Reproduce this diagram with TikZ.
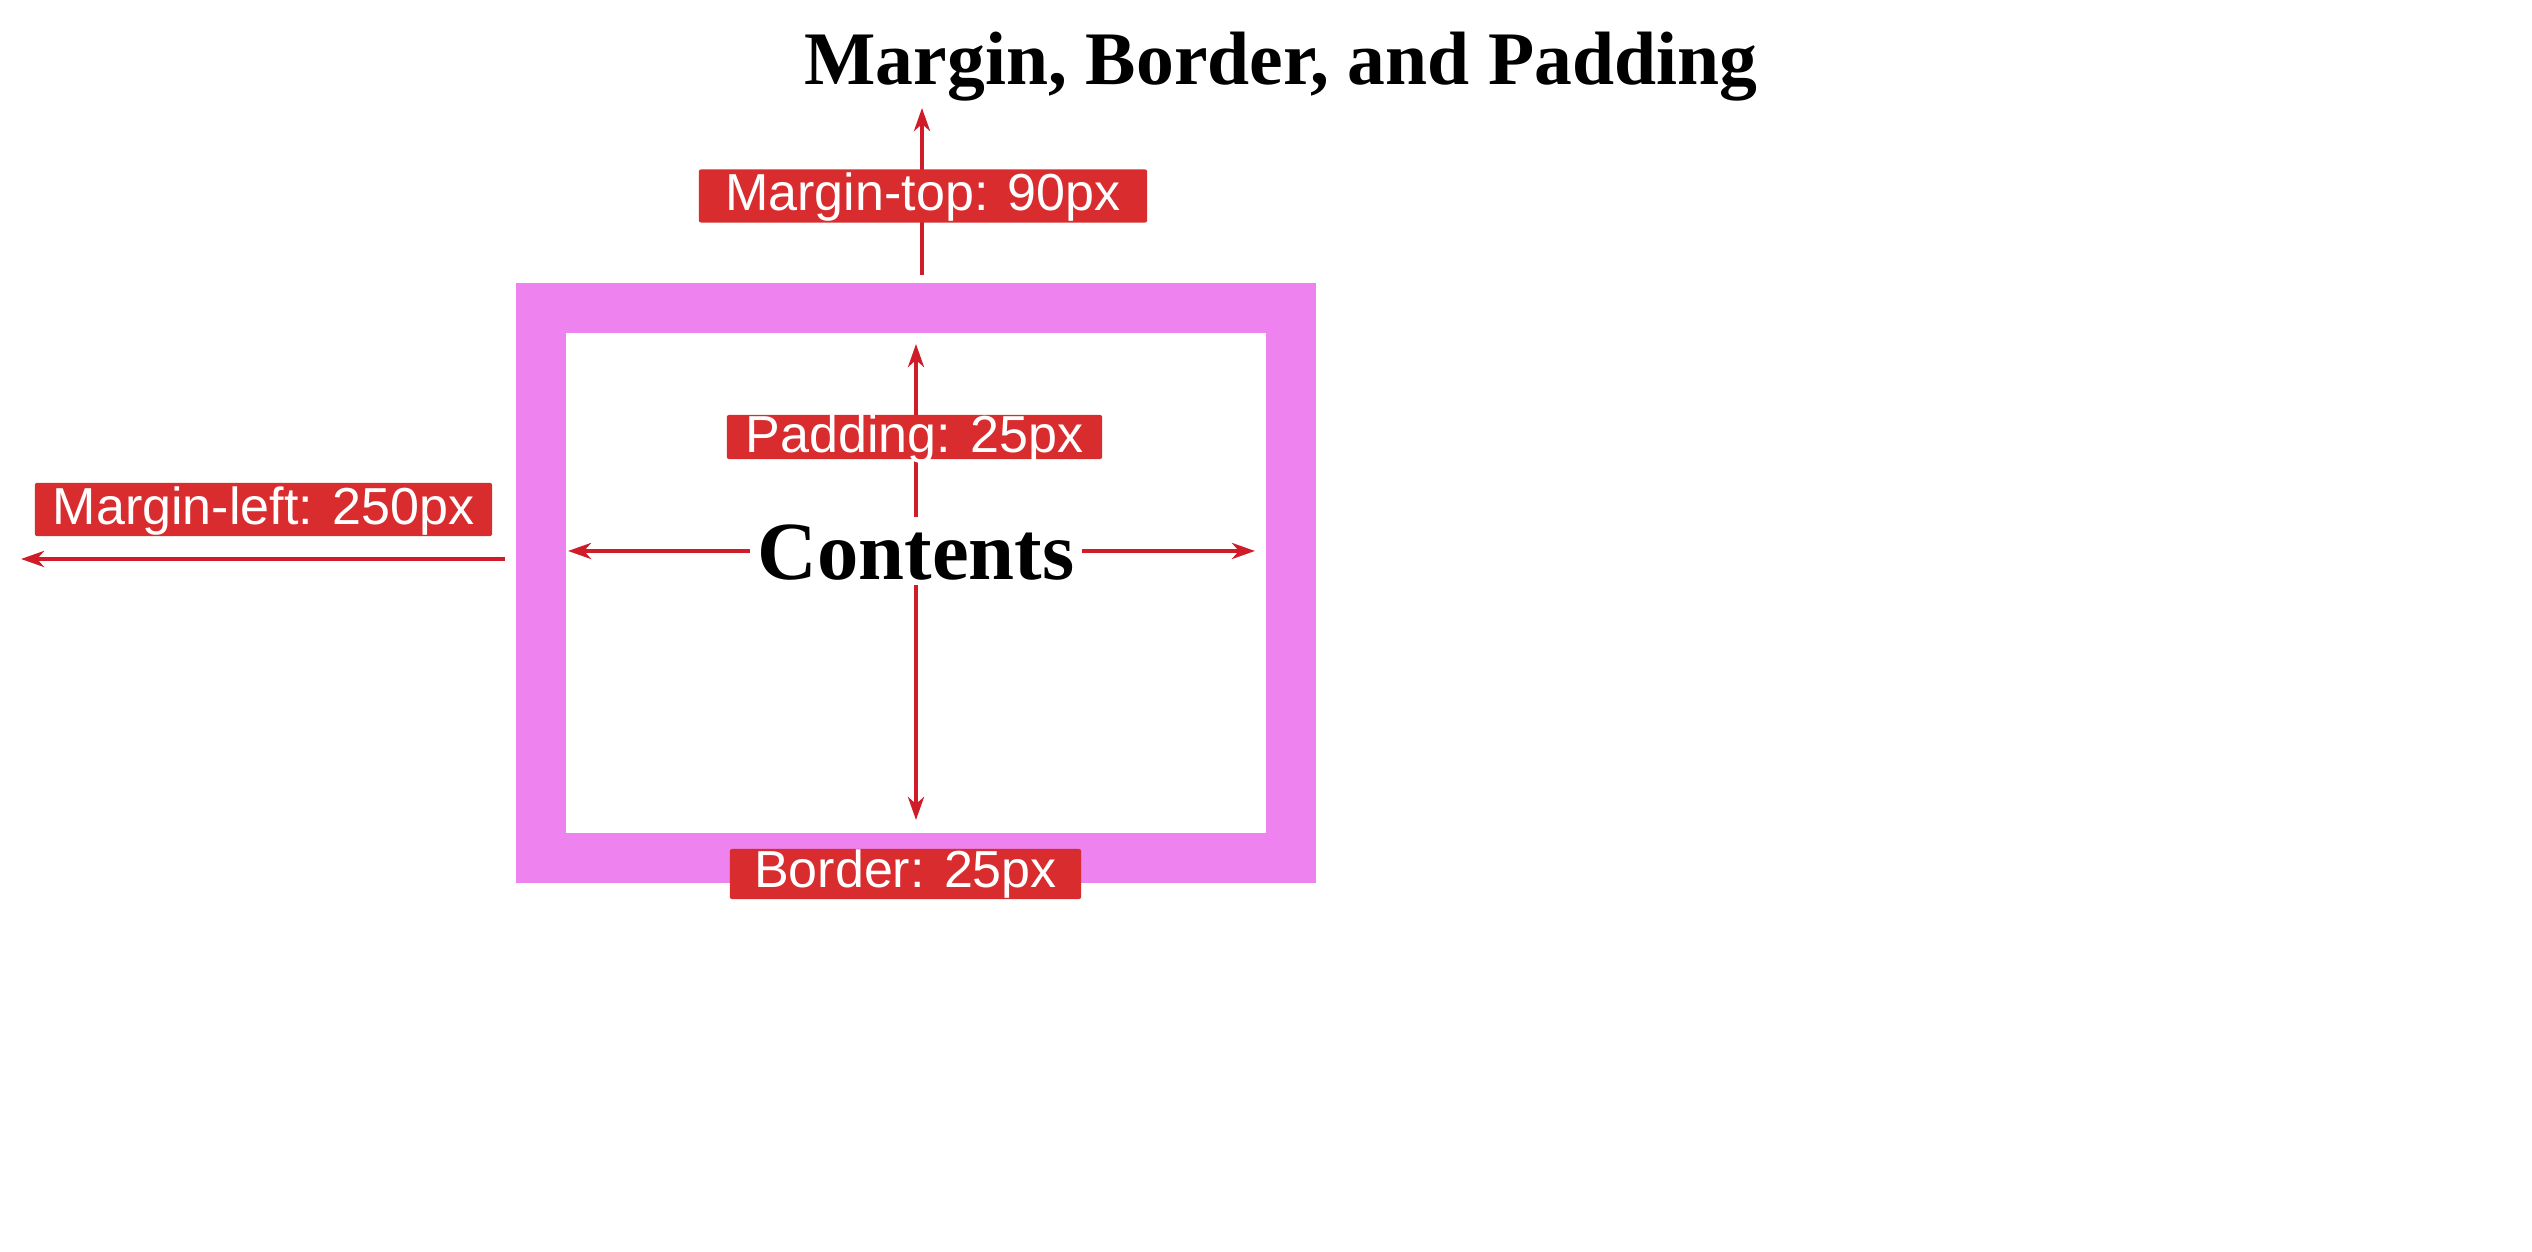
\documentclass[tikz,border=0pt]{standalone}
\usepackage{fontspec}
\setmainfont{Liberation Serif}
\setsansfont{Liberation Sans}
\usetikzlibrary{arrows.meta,calc}

\definecolor{boxviolet}{RGB}{238,130,238}
\definecolor{labelred}{RGB}{216,44,46}
\definecolor{arrowred}{RGB}{208,28,40}

\tikzset{
	arrowline/.style = {draw=arrowred, line width=0.04cm, -{Stealth[length=0.23cm,width=0.16cm,inset=0.07cm]}},
	tag/.style = {fill=labelred, text=white, rounded corners=0.02cm, font=\sffamily\fontsize{14.8}{16}\selectfont,
		inner xsep=0pt, inner ysep=0pt, text height=0.41cm, text depth=0.12cm}
}

\begin{document}
\begin{tikzpicture}[x=0.01cm, y=-0.01cm]
	\useasboundingbox (0,0) rectangle (2532,1252);
	% box with border
	\node[draw=boxviolet, line width=0.5cm, minimum width=7.5cm, minimum height=5.5cm, inner sep=0pt] (border) at (916,583) {};
	\node[anchor=base, font=\bfseries\fontsize{21.5}{24}\selectfont] (title) at (1281,85) {Margin, Border, and Padding};
	\node[anchor=base, font=\bfseries\fontsize{23.5}{26}\selectfont, inner xsep=0.07cm, inner ysep=0.04cm, text height=0.58cm, text depth=0pt] (contents) at (916,580) {Contents};
	% free arrow ends
	\coordinate (mttip) at (922,108);
	\coordinate (mltip) at (21,559);
	\coordinate (padtop) at (917,344);
	\coordinate (padbot) at (917,820);
	\coordinate (padleft) at (568,553);
	\coordinate (padright) at (1255,553);
	% arrows
	\draw[arrowline] ($(border.north -| mttip)+(0,-8)$) -- (mttip);
	\draw[arrowline, line width=0.045cm] ($(border.west |- mltip)+(-11,0)$) -- (mltip);
	\draw[arrowline] (contents.north) -- (contents.north |- padtop);
	\draw[arrowline] (contents.south) -- (contents.south |- padbot);
	\draw[arrowline] (contents.west) -- (contents.west -| padleft);
	\draw[arrowline] (contents.east) -- (contents.east -| padright);
	% labels
	\node[tag, minimum width=4.48cm] (mtop) at (923,196) {Margin-top: 90px};
	\node[tag, minimum width=4.57cm] (mleft) at (263.5,509.5) {Margin-left: 250px};
	\node[tag, minimum width=3.75cm, text height=0.37cm, text depth=0.07cm] (pad) at (914.5,437) {Padding: 25px};
	\node[tag, minimum width=3.51cm, text height=0.38cm] (bord) at (905.5,874) {Border: 25px};
\end{tikzpicture}
\end{document}
